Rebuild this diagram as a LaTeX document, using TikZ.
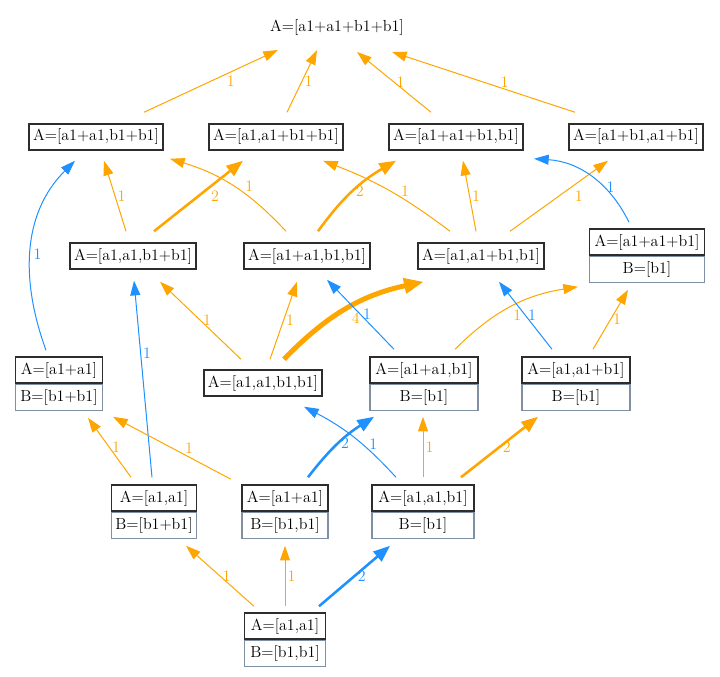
\documentclass[tikz,border=0pt]{standalone}
\usepackage{xcolor}
\usepackage{tikz}
\usetikzlibrary{arrows.meta, positioning}

\definecolor{wtorange}{RGB}{255,165,0}
\definecolor{wtblue}{RGB}{30,144,255}
\definecolor{aframe}{RGB}{45,45,45}
\definecolor{bframe}{RGB}{128,144,162}

\begin{document}
\begin{tikzpicture}[x=0.75pt, y=-0.75pt,
    every node/.style={font=\fontsize{12}{14}\selectfont},
    abox/.style={draw=aframe, line width=1.1pt, minimum height=19.5pt, inner xsep=3pt, inner ysep=1pt},
    bbox/.style={draw=bframe, line width=0.8pt, minimum height=19.5pt, inner xsep=3pt, inner ysep=1pt},
    olab/.style={text=wtorange, anchor=west, inner sep=1.5pt},
    blab/.style={text=wtblue, anchor=west, inner sep=1.5pt},
    one/.style={line width=0.75pt, -{Triangle[length=11pt,width=7.5pt]}},
    two/.style={line width=1.9pt, -{Triangle[length=12.5pt,width=9.5pt]}},
    four/.style={line width=3.75pt, -{Triangle[length=15pt,width=11pt]}}]
  \useasboundingbox (0,0) rectangle (720,677);

  % result
  \node (top) at (337,28) {A=[a1+a1+b1+b1]};

  % level 1
  \node[abox] (n1) at (96,137) {A=[a1+a1,b1+b1]};
  \node[abox] (n2) at (276,137) {A=[a1,a1+b1+b1]};
  \node[abox] (n3) at (456,137) {A=[a1+a1+b1,b1]};
  \node[abox] (n4) at (636,137) {A=[a1+b1,a1+b1]};

  % level 2
  \node[abox] (m1) at (133,256) {A=[a1,a1,b1+b1]};
  \node[abox] (m2) at (307,256) {A=[a1+a1,b1,b1]};
  \node[abox] (m3) at (481,256) {A=[a1,a1+b1,b1]};
  \node[abox, minimum width=86pt] (m4) at (647,242) {A=[a1+a1+b1]};
  \node[bbox, minimum width=86pt, below=0pt of m4] (m4b) {B=[b1]};

  % level 3
  \node[abox, minimum width=65pt] (p1) at (59,370) {A=[a1+a1]};
  \node[bbox, minimum width=65pt, below=0pt of p1] (p1b) {B=[b1+b1]};
  \node[abox] (p2) at (263,383) {A=[a1,a1,b1,b1]};
  \node[abox, minimum width=81pt] (p3) at (424,370) {A=[a1+a1,b1]};
  \node[bbox, minimum width=81pt, below=0pt of p3] (p3b) {B=[b1]};
  \node[abox, minimum width=81pt] (p4) at (576,370) {A=[a1,a1+b1]};
  \node[bbox, minimum width=81pt, below=0pt of p4] (p4b) {B=[b1]};

  % level 4
  \node[abox, minimum width=64pt] (q1) at (154,498) {A=[a1,a1]};
  \node[bbox, minimum width=64pt, below=0pt of q1] (q1b) {B=[b1+b1]};
  \node[abox, minimum width=64.5pt] (q2) at (285,498) {A=[a1+a1]};
  \node[bbox, minimum width=64.5pt, below=0pt of q2] (q2b) {B=[b1,b1]};
  \node[abox, minimum width=76.5pt] (q3) at (423,498) {A=[a1,a1,b1]};
  \node[bbox, minimum width=76.5pt, below=0pt of q3] (q3b) {B=[b1]};

  % start
  \node[abox, minimum width=61pt] (r) at (285,626) {A=[a1,a1]};
  \node[bbox, minimum width=61pt, below=0pt of r] (rb) {B=[b1,b1]};

  \begin{scope}[every edge/.style={draw, one}]
    % into the result
    \path ([shift={(48,-11)}]n1.north) edge[wtorange] node[olab, xshift=10pt] {1} ([shift={(-59,22)}]top.center);
    \path ([shift={(11,-11)}]n2.north) edge[wtorange] node[olab] {1} ([shift={(-20,22)}]top.center);
    \path ([shift={(-25,-11)}]n3.north) edge[wtorange] node[olab] {1} ([shift={(20,24)}]top.center);
    \path ([shift={(-61,-11)}]n4.north) edge[wtorange] node[olab, xshift=11pt] {1} ([shift={(55,24)}]top.center);

    % level 2 -> level 1
    \path ([shift={(-7,-11)}]m1.north) edge[wtorange] node[olab] {1} ([shift={(8,10)}]n1.south);
    \path ([shift={(21,-11)}]m1.north) edge[wtorange, two] node[olab, xshift=7pt] {2} ([shift={(-33,10)}]n2.south);
    \path ([shift={(-21,-11)}]m2.north) edge[wtorange, bend right=15] node[olab, xshift=7pt] {1} ([shift={(74,8)}]n1.south);
    \path ([shift={(11,-11)}]m2.north) edge[wtorange, two, bend left=12] node[olab] {2} ([shift={(-60,10)}]n3.south);
    \path ([shift={(-31,-11)}]m3.north) edge[wtorange, bend right=8] node[olab, xshift=7pt] {1} ([shift={(47,10)}]n2.south);
    \path ([shift={(-5,-11)}]m3.north) edge[wtorange] node[olab] {1} ([shift={(7,10)}]n3.south);
    \path ([shift={(29,-11)}]m3.north) edge[wtorange] node[olab, xshift=10pt] {1} ([shift={(-28,10)}]n4.south);
    \path ([shift={(-18,-6)}]m4.north) edge[wtblue, bend right=30] node[blab, anchor=north west, xshift=10pt, yshift=-2pt] {1} ([shift={(78,8)}]n3.south);

    % level 3 -> level 2
    \path ([shift={(-13,-6)}]p1.north) edge[wtblue, out=110, in=225] node[blab, yshift=-4pt] {1} ([shift={(-21,10)}]n1.south);
    \path ([shift={(-2,-7)}]q1.north) edge[wtblue] node[blab, pos=.63] {1} ([shift={(1,11)}]m1.south);
    \path ([shift={(-22,-10)}]p2.north) edge[wtorange] node[olab] {1} ([shift={(27,12)}]m1.south);
    \path ([shift={(7,-10)}]p2.north) edge[wtorange] node[olab] {1} ([shift={(-10,12)}]m2.south);
    \path ([shift={(21,-10)}]p2.north) edge[wtorange, four, bend left=17] node[olab, anchor=north west] {4} ([shift={(-57,12)}]m3.south);
    \path ([shift={(-30,-7)}]p3.north) edge[wtblue] node[blab] {1} ([shift={(20,10)}]m2.south);
    \path ([shift={(31,-7)}]p3.north) edge[wtorange, bend left=18] node[olab, anchor=north west] {1} ([shift={(-69,4)}]m4b.south);
    \path ([shift={(-24,-7)}]p4.north) edge[wtblue] node[blab] {1} ([shift={(18,12)}]m3.south);
    \path ([shift={(17,-7)}]p4.north) edge[wtorange] node[olab] {1} ([shift={(-19,7)}]m4b.south);

    % level 4 -> level 3
    \path ([shift={(-23,-7)}]q1.north) edge[wtorange] node[olab] {1} ([shift={(29,7)}]p1b.south);
    \path ([shift={(-54,-5)}]q2.north) edge[wtorange] node[olab, xshift=8pt] {1} ([shift={(54,6)}]p1b.south);
    \path ([shift={(23,-7)}]q2.north) edge[wtblue, two, bend left=10] node[blab] {2} ([shift={(-50,6)}]p3b.south);
    \path ([shift={(-27,-7)}]q3.north) edge[wtblue, bend right=10] node[blab, xshift=10pt, yshift=-5pt] {1} ([shift={(41,10)}]p2.south);
    \path ([shift={(0,-7)}]q3.north) edge[wtorange] node[olab] {1} ([shift={(-1,6)}]p3b.south);
    \path ([shift={(38,-7)}]q3.north) edge[wtorange, two] node[olab] {2} ([shift={(-38,6)}]p4b.south);

    % start -> level 4
    \path ([shift={(-31,-6)}]r.north) edge[wtorange] node[olab] {1} ([shift={(32,7)}]q1b.south);
    \path ([shift={(0,-6)}]r.north) edge[wtorange] node[olab] {1} ([shift={(0,7)}]q2b.south);
    \path ([shift={(34,-6)}]r.north) edge[wtblue, two] node[blab] {2} ([shift={(-33,7)}]q3b.south);
  \end{scope}
\end{tikzpicture}
\end{document}
